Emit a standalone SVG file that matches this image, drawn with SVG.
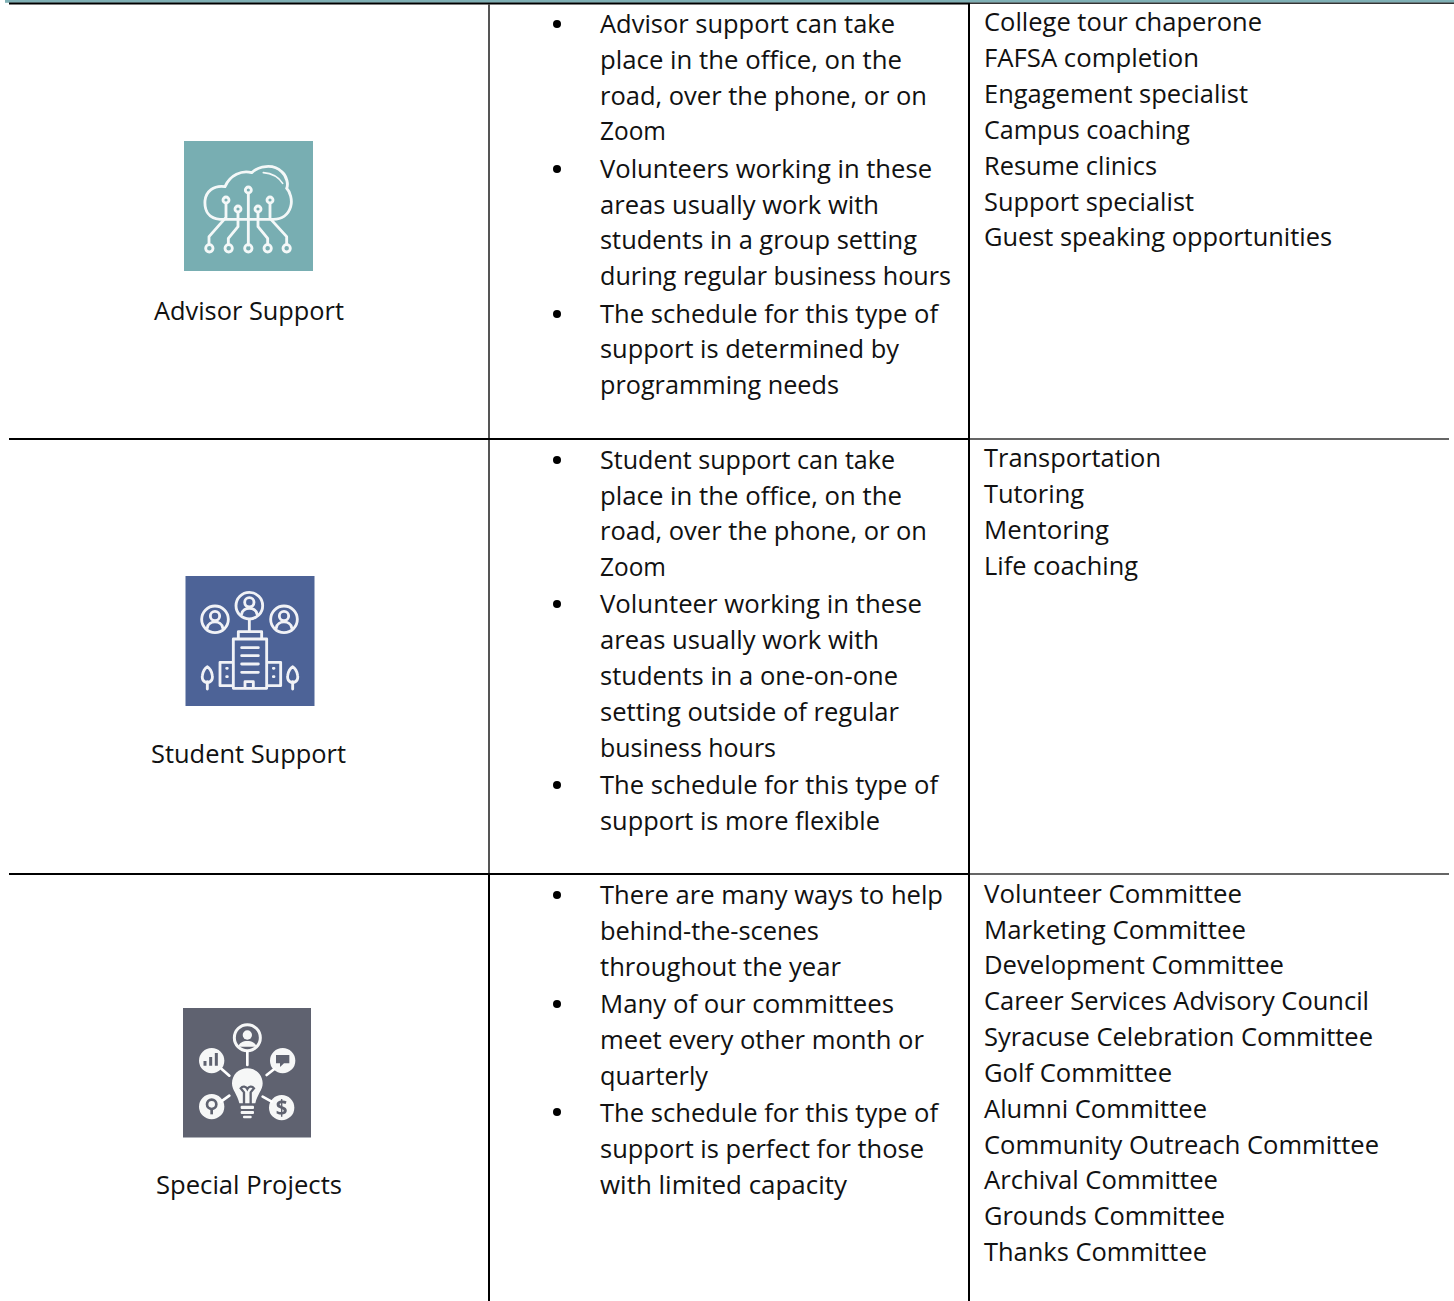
<svg xmlns="http://www.w3.org/2000/svg" width="1454" height="1301" viewBox="0 0 1454 1301">
<defs><filter id="soft" x="-5%" y="-5%" width="110%" height="110%"><feGaussianBlur stdDeviation="0.6"/></filter></defs>
<style>
text{font-family:"Open Sans","Liberation Sans",sans-serif;font-size:25.4px;fill:#111}
.k{stroke:#000;stroke-width:2;fill:none}
.g{stroke:#555;stroke-width:2;fill:none}
.h{stroke:#333;stroke-width:1.600;fill:none}
.i{fill:none;stroke:#fff;stroke-width:8.500;stroke-linecap:round;stroke-linejoin:round;opacity:.92}
.w{fill:#fff;opacity:.95}
</style>
<rect width="1454" height="1301" fill="#fff"/>
<g id="connectors">
<rect x="5" y="0" width="1449" height="2.800" fill="#7fb0b5"/>
<path class="h" d="M970 3.300H1454M970 439H1449M970 874H1449"/>
<path class="k" d="M9 3.400H970M9 439H970M9 874H970M969 3V1301M489 874V1301"/>
<path class="g" d="M489 4V438M489 440V873"/>
</g>
<g id="advisor">
<g filter="url(#soft)">
<rect x="184" y="141" width="129" height="130" fill="#78aeb2"/>
<g class="i" transform="translate(170 130) scale(.33333)">
<path d="M150 268C115 265 103 240 105 212C108 185 130 165 165 170C180 135 215 120 245 128C265 108 310 100 335 125C352 140 355 165 350 175C360 185 368 210 362 230C355 255 335 268 310 268H150"/>
<path d="M280 128C305 130 325 140 338 160" stroke-width="5"/>
<circle cx="235" cy="180" r="9"/><circle cx="168" cy="210" r="9"/><circle cx="300" cy="210" r="9"/><circle cx="204" cy="237" r="9"/><circle cx="264" cy="237" r="9"/>
<path d="M235 190V345M168 220V262L117 320V342M204 247V290L175 325V342M264 247V290L293 325V342M300 220V265L350 320V342"/>
<circle cx="118" cy="355" r="11"/><circle cx="176" cy="355" r="11"/><circle cx="235" cy="355" r="11"/><circle cx="293" cy="355" r="11"/><circle cx="350" cy="355" r="11"/>
</g>
</g>
<text x="154" y="320" textLength="190" lengthAdjust="spacingAndGlyphs">Advisor Support</text>
</g>
<g id="student">
<g filter="url(#soft)">
<rect x="185.500" y="576" width="129" height="130" fill="#4d6397"/>
<g class="i" transform="translate(170 565) scale(.33333)">
<circle cx="135" cy="163" r="40"/><circle cx="238" cy="122" r="40"/><circle cx="342" cy="163" r="40"/>
<circle cx="135" cy="153" r="14"/><path d="M112 188C116 165 154 165 158 188"/>
<circle cx="238" cy="112" r="14"/><path d="M215 147C219 124 257 124 261 147"/>
<circle cx="342" cy="153" r="14"/><path d="M319 188C323 165 361 165 365 188"/>
<path d="M238 165V195M205 222V200H275V222M190 222H290V370H190ZM215 248H265M215 272H265M215 297H265M215 322H265M190 292H150V362H190M290 292H332V362H290M225 370V350H250V370"/>
<path d="M170 310H172M170 335H172M310 310H312M310 335H312"/>
<path d="M112 372V350M112 352C98 352 96 340 97 332C98 320 106 308 112 305C118 308 126 320 127 332C128 340 126 352 112 352ZM368 372V350M368 352C354 352 352 340 353 332C354 320 362 308 368 305C374 308 382 320 383 332C384 340 382 352 368 352Z"/>
</g>
</g>
<text x="151" y="763" textLength="195" lengthAdjust="spacingAndGlyphs">Student Support</text>
</g>
<g id="special">
<g filter="url(#soft)">
<rect x="183" y="1008" width="128" height="129.500" fill="#5e6270"/>
<g transform="translate(170 995) scale(.33333)">
<g class="w">
<circle cx="232" cy="128" r="39" fill="none" stroke="#fff" stroke-width="9"/>
<circle cx="232" cy="120" r="14"/><path d="M205 155C208 132 256 132 259 155Z"/>
<circle cx="125" cy="197" r="38"/><circle cx="338" cy="197" r="38"/><circle cx="125" cy="335" r="38"/><circle cx="335" cy="338" r="38"/>
<path d="M232 220C258 220 278 240 278 265C278 285 262 298 256 325H208C202 298 186 285 186 265C186 240 206 220 232 220Z"/>
<rect x="212" y="332" width="40" height="10" rx="3"/><rect x="212" y="348" width="40" height="9" rx="3"/><rect x="219" y="362" width="26" height="8" rx="3"/>
</g>
<path d="M232 170V210M155 222L178 242M313 222L290 240M153 320L178 302M305 320L278 305" stroke="#fff" stroke-width="8" stroke-linecap="round" fill="none"/>
<path d="M222 328V292L212 280C218 272 228 274 232 282C236 274 246 272 252 280L242 292V328" stroke="#5e6270" stroke-width="7" fill="none"/>
<path d="M105 212V198M122 212V186M139 212V174" stroke="#5e6270" stroke-width="9"/>
<path d="M318 180H358V205H342L330 216V205H318Z" fill="#5e6270"/>
<circle cx="125" cy="328" r="14" fill="none" stroke="#5e6270" stroke-width="8"/><path d="M125 342V358" stroke="#5e6270" stroke-width="8"/>
<text x="335" y="361" text-anchor="middle" style="font-size:62px;font-weight:700;fill:#5e6270">$</text>
</g>
</g>
<text x="156" y="1194" textLength="186" lengthAdjust="spacingAndGlyphs">Special Projects</text>
</g>
<g id="desc-advisor">
<circle cx="557" cy="24" r="4"/><circle cx="557" cy="169" r="4"/><circle cx="557" cy="314" r="4"/>
<text x="600" y="33" textLength="295" lengthAdjust="spacingAndGlyphs">Advisor support can take</text>
<text x="600" y="69" textLength="302" lengthAdjust="spacingAndGlyphs">place in the office, on the</text>
<text x="600" y="105" textLength="327" lengthAdjust="spacingAndGlyphs">road, over the phone, or on</text>
<text x="600" y="140" textLength="66" lengthAdjust="spacingAndGlyphs">Zoom</text>
<text x="600" y="178" textLength="332" lengthAdjust="spacingAndGlyphs">Volunteers working in these</text>
<text x="600" y="214" textLength="279" lengthAdjust="spacingAndGlyphs">areas usually work with</text>
<text x="600" y="249" textLength="317" lengthAdjust="spacingAndGlyphs">students in a group setting</text>
<text x="600" y="285" textLength="351" lengthAdjust="spacingAndGlyphs">during regular business hours</text>
<text x="600" y="323" textLength="338" lengthAdjust="spacingAndGlyphs">The schedule for this type of</text>
<text x="600" y="358" textLength="299" lengthAdjust="spacingAndGlyphs">support is determined by</text>
<text x="600" y="394" textLength="239" lengthAdjust="spacingAndGlyphs">programming needs</text>
</g>
<g id="desc-student">
<circle cx="557" cy="460" r="4"/><circle cx="557" cy="604" r="4"/><circle cx="557" cy="785" r="4"/>
<text x="600" y="469" textLength="295" lengthAdjust="spacingAndGlyphs">Student support can take</text>
<text x="600" y="505" textLength="302" lengthAdjust="spacingAndGlyphs">place in the office, on the</text>
<text x="600" y="540" textLength="327" lengthAdjust="spacingAndGlyphs">road, over the phone, or on</text>
<text x="600" y="576" textLength="66" lengthAdjust="spacingAndGlyphs">Zoom</text>
<text x="600" y="613" textLength="322" lengthAdjust="spacingAndGlyphs">Volunteer working in these</text>
<text x="600" y="649" textLength="279" lengthAdjust="spacingAndGlyphs">areas usually work with</text>
<text x="600" y="685" textLength="298" lengthAdjust="spacingAndGlyphs">students in a one-on-one</text>
<text x="600" y="721" textLength="299" lengthAdjust="spacingAndGlyphs">setting outside of regular</text>
<text x="600" y="757" textLength="176" lengthAdjust="spacingAndGlyphs">business hours</text>
<text x="600" y="794" textLength="338" lengthAdjust="spacingAndGlyphs">The schedule for this type of</text>
<text x="600" y="830" textLength="280" lengthAdjust="spacingAndGlyphs">support is more flexible</text>
</g>
<g id="desc-special">
<circle cx="557" cy="895" r="4"/><circle cx="557" cy="1004" r="4"/><circle cx="557" cy="1112" r="4"/>
<text x="600" y="904" textLength="343" lengthAdjust="spacingAndGlyphs">There are many ways to help</text>
<text x="600" y="940" textLength="219" lengthAdjust="spacingAndGlyphs">behind-the-scenes</text>
<text x="600" y="976" textLength="241" lengthAdjust="spacingAndGlyphs">throughout the year</text>
<text x="600" y="1013" textLength="294" lengthAdjust="spacingAndGlyphs">Many of our committees</text>
<text x="600" y="1049" textLength="324" lengthAdjust="spacingAndGlyphs">meet every other month or</text>
<text x="600" y="1085" textLength="108" lengthAdjust="spacingAndGlyphs">quarterly</text>
<text x="600" y="1122" textLength="338" lengthAdjust="spacingAndGlyphs">The schedule for this type of</text>
<text x="600" y="1158" textLength="324" lengthAdjust="spacingAndGlyphs">support is perfect for those</text>
<text x="600" y="1194" textLength="247" lengthAdjust="spacingAndGlyphs">with limited capacity</text>
</g>
<g id="roles-advisor">
<text x="984" y="31" textLength="278" lengthAdjust="spacingAndGlyphs">College tour chaperone</text>
<text x="984" y="67" textLength="215" lengthAdjust="spacingAndGlyphs">FAFSA completion</text>
<text x="984" y="103" textLength="264" lengthAdjust="spacingAndGlyphs">Engagement specialist</text>
<text x="984" y="139" textLength="206" lengthAdjust="spacingAndGlyphs">Campus coaching</text>
<text x="984" y="175" textLength="173" lengthAdjust="spacingAndGlyphs">Resume clinics</text>
<text x="984" y="211" textLength="210" lengthAdjust="spacingAndGlyphs">Support specialist</text>
<text x="984" y="246" textLength="348" lengthAdjust="spacingAndGlyphs">Guest speaking opportunities</text>
</g>
<g id="roles-student">
<text x="984" y="467" textLength="177" lengthAdjust="spacingAndGlyphs">Transportation</text>
<text x="984" y="503" textLength="100" lengthAdjust="spacingAndGlyphs">Tutoring</text>
<text x="984" y="539" textLength="125" lengthAdjust="spacingAndGlyphs">Mentoring</text>
<text x="984" y="575" textLength="154" lengthAdjust="spacingAndGlyphs">Life coaching</text>
</g>
<g id="roles-special">
<text x="984" y="903" textLength="258" lengthAdjust="spacingAndGlyphs">Volunteer Committee</text>
<text x="984" y="939" textLength="262" lengthAdjust="spacingAndGlyphs">Marketing Committee</text>
<text x="984" y="974" textLength="300" lengthAdjust="spacingAndGlyphs">Development Committee</text>
<text x="984" y="1010" textLength="385" lengthAdjust="spacingAndGlyphs">Career Services Advisory Council</text>
<text x="984" y="1046" textLength="389" lengthAdjust="spacingAndGlyphs">Syracuse Celebration Committee</text>
<text x="984" y="1082" textLength="188" lengthAdjust="spacingAndGlyphs">Golf Committee</text>
<text x="984" y="1118" textLength="223" lengthAdjust="spacingAndGlyphs">Alumni Committee</text>
<text x="984" y="1154" textLength="395" lengthAdjust="spacingAndGlyphs">Community Outreach Committee</text>
<text x="984" y="1189" textLength="234" lengthAdjust="spacingAndGlyphs">Archival Committee</text>
<text x="984" y="1225" textLength="241" lengthAdjust="spacingAndGlyphs">Grounds Committee</text>
<text x="984" y="1261" textLength="223" lengthAdjust="spacingAndGlyphs">Thanks Committee</text>
</g>
</svg>
